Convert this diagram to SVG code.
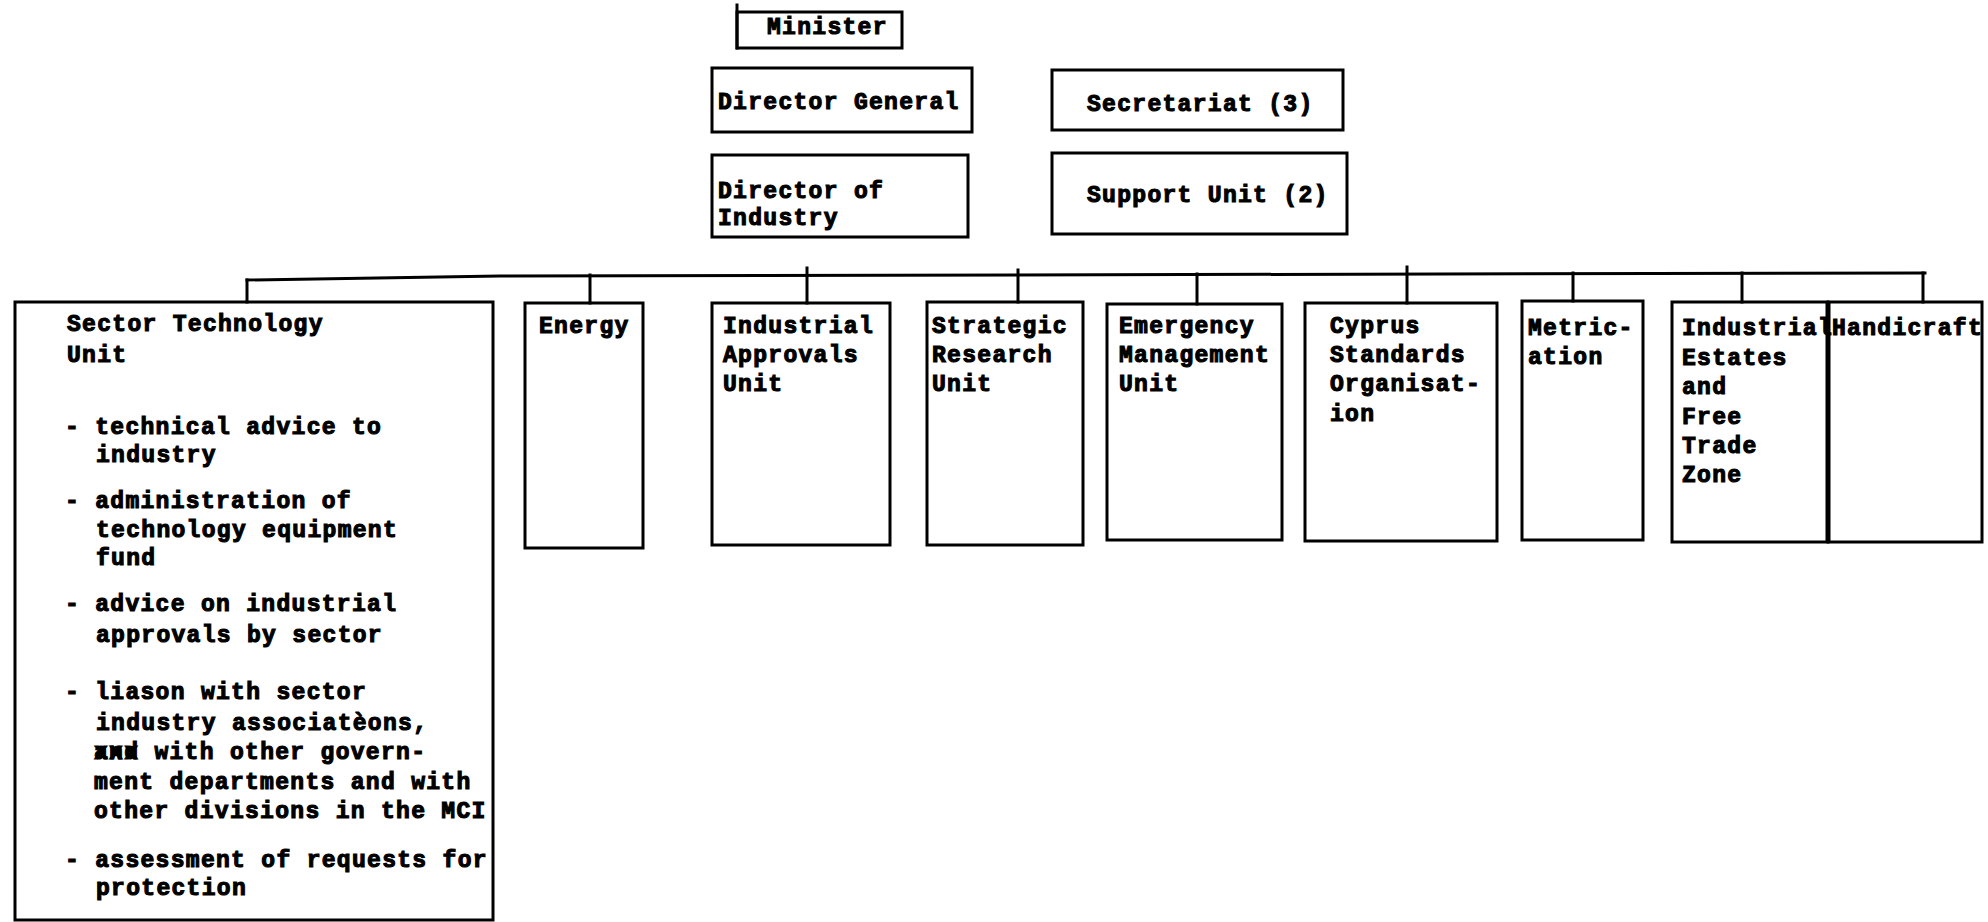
<svg xmlns="http://www.w3.org/2000/svg" width="1988" height="922" viewBox="0 0 1988 922">
  <style>
    .box { fill: none; stroke: #000; stroke-width: 3; stroke-linecap: square; }
    .wire { fill: none; stroke: #000; stroke-width: 3; stroke-linecap: square; }
    .t { font-family: "Liberation Mono", "DejaVu Sans Mono", monospace; font-weight: bold; font-size: 23px; letter-spacing: 1.3px; fill: #000; stroke: #000; stroke-width: 1.1; }
  </style>
  <rect width="1988" height="922" fill="#fff"/>

  <!-- top row -->
  <g id="minister">
    <rect class="box" x="737" y="12" width="165" height="36"/>
    <line class="box" x1="737" y1="5" x2="737" y2="48"/>
    <text class="t" x="767" y="34">Minister</text>
  </g>
  <g id="director-general">
    <rect class="box" x="712" y="68" width="260" height="64"/>
    <text class="t" x="718" y="109">Director General</text>
  </g>
  <g id="secretariat">
    <rect class="box" x="1052" y="70" width="291" height="60"/>
    <text class="t" x="1087" y="111">Secretariat (3)</text>
  </g>
  <g id="director-of-industry">
    <rect class="box" x="712" y="155" width="256" height="82"/>
    <text class="t" x="718" y="198">Director of</text>
    <text class="t" x="718" y="225">Industry</text>
  </g>
  <g id="support-unit">
    <rect class="box" x="1052" y="153" width="295" height="81"/>
    <text class="t" x="1087" y="202">Support Unit (2)</text>
  </g>

  <!-- horizontal bus and drops to each unit -->
  <g id="connectors">
    <polyline class="wire" points="247,280 500,276 1925,273"/>
    <line class="wire" x1="247" y1="280" x2="247" y2="302"/>
    <line class="wire" x1="590" y1="275" x2="590" y2="303"/>
    <line class="wire" x1="807" y1="268" x2="807" y2="303"/>
    <line class="wire" x1="1018" y1="270" x2="1018" y2="302"/>
    <line class="wire" x1="1197" y1="274" x2="1197" y2="304"/>
    <line class="wire" x1="1407" y1="267" x2="1407" y2="303"/>
    <line class="wire" x1="1573" y1="273" x2="1573" y2="301"/>
    <line class="wire" x1="1742" y1="273" x2="1742" y2="302"/>
    <line class="wire" x1="1923" y1="273" x2="1923" y2="302"/>
  </g>

  <!-- unit row -->
  <g id="sector-technology-unit">
    <rect class="box" x="15" y="302" width="478" height="618"/>
    <text class="t" x="67" y="331">Sector Technology</text>
    <text class="t" x="67" y="362">Unit</text>
    <text class="t" x="65" y="434">- technical advice to</text>
    <text class="t" x="96" y="462">industry</text>
    <text class="t" x="65" y="508">- administration of</text>
    <text class="t" x="96" y="537">technology equipment</text>
    <text class="t" x="96" y="565">fund</text>
    <text class="t" x="65" y="611">- advice on industrial</text>
    <text class="t" x="96" y="642">approvals by sector</text>
    <text class="t" x="65" y="699">- liason with sector</text>
    <text class="t" x="96" y="730">industry associatèons,</text>
    <text class="t" x="94" y="759"><tspan>and</tspan><tspan dx="-45.3">xxx</tspan> with other govern-</text>
    <text class="t" x="94" y="789">ment departments and with</text>
    <text class="t" x="94" y="818">other divisions in the MCI</text>
    <text class="t" x="65" y="867">- assessment of requests for</text>
    <text class="t" x="96" y="895">protection</text>
  </g>
  <g id="energy">
    <rect class="box" x="525" y="303" width="118" height="245"/>
    <text class="t" x="539" y="333">Energy</text>
  </g>
  <g id="industrial-approvals-unit">
    <rect class="box" x="712" y="303" width="178" height="242"/>
    <text class="t" x="723" y="333">Industrial</text>
    <text class="t" x="723" y="362">Approvals</text>
    <text class="t" x="723" y="391">Unit</text>
  </g>
  <g id="strategic-research-unit">
    <rect class="box" x="927" y="302" width="156" height="243"/>
    <text class="t" x="932" y="333">Strategic</text>
    <text class="t" x="932" y="362">Research</text>
    <text class="t" x="932" y="391">Unit</text>
  </g>
  <g id="emergency-management-unit">
    <rect class="box" x="1107" y="304" width="175" height="236"/>
    <text class="t" x="1119" y="333">Emergency</text>
    <text class="t" x="1119" y="362">Management</text>
    <text class="t" x="1119" y="391">Unit</text>
  </g>
  <g id="cyprus-standards-organisation">
    <rect class="box" x="1305" y="303" width="192" height="238"/>
    <text class="t" x="1330" y="333">Cyprus</text>
    <text class="t" x="1330" y="362">Standards</text>
    <text class="t" x="1330" y="391">Organisat-</text>
    <text class="t" x="1330" y="421">ion</text>
  </g>
  <g id="metrication">
    <rect class="box" x="1522" y="301" width="121" height="239"/>
    <text class="t" x="1528" y="335">Metric-</text>
    <text class="t" x="1528" y="364">ation</text>
  </g>
  <g id="industrial-estates">
    <rect class="box" x="1672" y="302" width="156" height="240"/>
    <text class="t" x="1682" y="335">Industrial</text>
    <text class="t" x="1682" y="365">Estates</text>
    <text class="t" x="1682" y="394">and</text>
    <text class="t" x="1682" y="424">Free</text>
    <text class="t" x="1682" y="453">Trade</text>
    <text class="t" x="1682" y="482">Zone</text>
  </g>
  <g id="handicraft">
    <rect class="box" x="1828" y="302" width="154" height="240"/>
    <line x1="1828" y1="302" x2="1828" y2="542" stroke="#000" stroke-width="5"/>
    <text class="t" x="1832" y="335">Handicraft</text>
  </g>
</svg>
